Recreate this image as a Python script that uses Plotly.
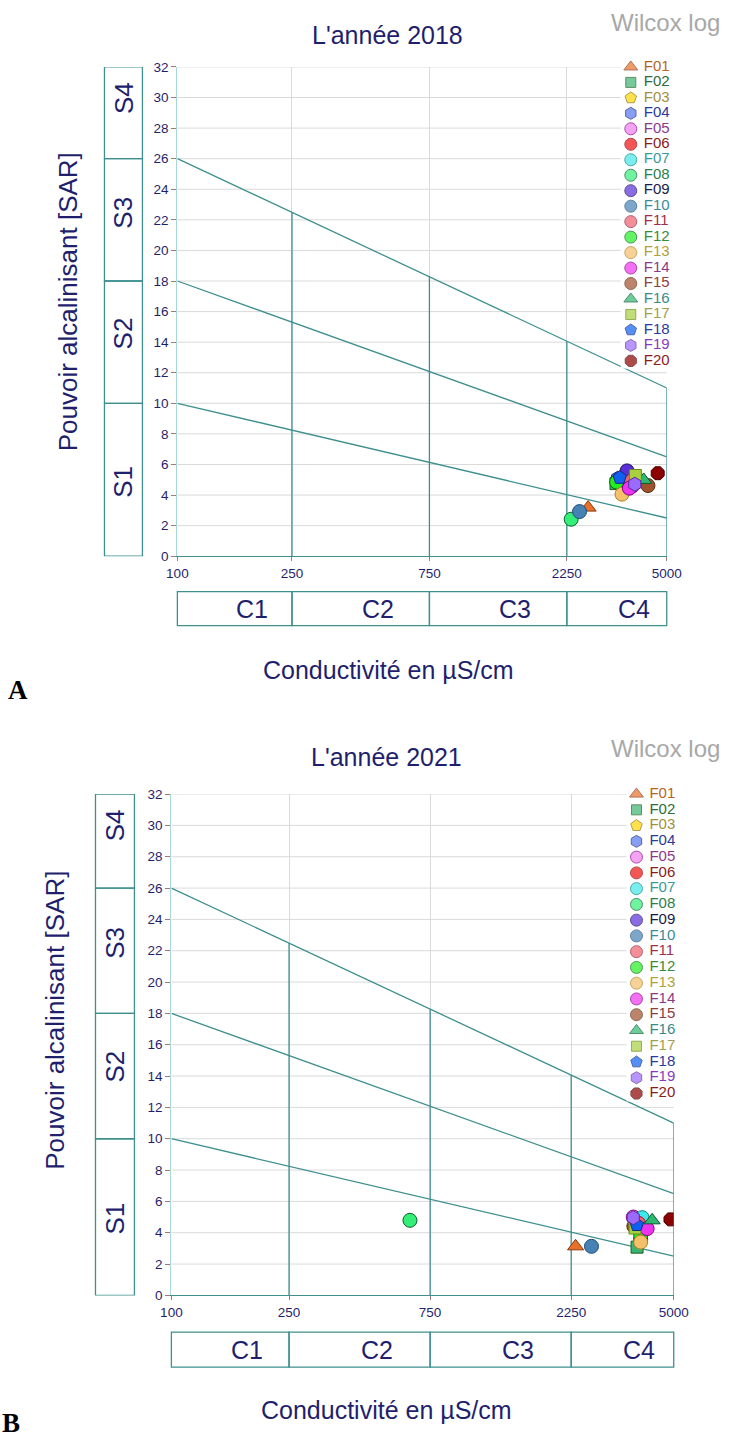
import math
import plotly.graph_objects as go

W, H = 737, 1442

# ---------------- data ----------------
series = ["F01", "F02", "F03", "F04", "F05", "F06", "F07", "F08", "F09", "F10",
          "F11", "F12", "F13", "F14", "F15", "F16", "F17", "F18", "F19", "F20"]
symbols = ["triangle-up", "square", "pentagon", "hexagon", "circle", "circle", "circle",
           "circle", "circle", "circle", "circle", "circle", "circle", "circle", "circle",
           "triangle-up", "square", "pentagon", "hexagon", "octagon"]
fill_colors = ["#e8702a", "#3cb371", "#ffd700", "#5577ee", "#f07cf0", "#f01010", "#40e8e8",
               "#33ee77", "#5a2ed8", "#4682b4", "#f06070", "#22ee22", "#f5c06a", "#ee33ee",
               "#a0522d", "#2eb872", "#a8d040", "#1060f0", "#9b6bff", "#8b0000"]
edge_colors = ["#8b3a0f", "#1b5e20", "#8b7500", "#1a237e", "#8b008b", "#8b0000", "#008080",
               "#0a6030", "#1a0a5a", "#1f4e79", "#8b2030", "#0a6a0a", "#b08020", "#800080",
               "#5a2a10", "#0a5a30", "#6a8a10", "#0a2a8a", "#5a2a9a", "#4a0000"]
text_colors = ["#b5651d", "#2e6b3a", "#a09040", "#2a3a9a", "#8b3a8b", "#8b1a1a", "#3a9a9a",
               "#2e7d4a", "#1a1a4a", "#3a8a9a", "#a0304a", "#3a8a3a", "#b0a040", "#8b3a8b",
               "#8b4040", "#3a8a8a", "#a0a050", "#2a3a9a", "#8a3ac0", "#8b1a1a"]

ec_2018 = [2667, 3333, 3500, 3380, 3800, 3700, 3600, 2329, 3640, 2490,
           3750, 3350, 3497, 3709, 4303, 4159, 3892, 3434, 3873, 4652]
sar_2018 = [3.18, 4.75, 4.4, 5.1, 4.6, 5.0, 5.1, 2.42, 5.58, 2.92,
            4.9, 4.85, 4.06, 4.45, 4.62, 4.99, 5.28, 5.14, 4.71, 5.43]

ec_2021 = [2328, 3758, 3800, 3700, 3650, 3850, 3911, 641, 3865, 2635,
           3800, 3865, 3865, 4065, 3666, 4227, 3700, 3750, 3648, 4875]
sar_2021 = [3.13, 3.08, 4.6, 4.7, 5.0, 4.5, 4.96, 4.79, 3.56, 3.13,
            4.6, 3.83, 3.4, 4.26, 4.41, 4.79, 4.3, 4.5, 4.96, 4.85]

ec_ticks = [100, 250, 750, 2250, 5000]
sar_ticks = list(range(0, 33, 2))
c_bounds = [100, 250, 750, 2250, 5000]
c_labels = ["C1", "C2", "C3", "C4"]
s_bounds = [0, 10, 18, 26, 32]
s_labels = ["S1", "S2", "S3", "S4"]
sar_line_left = [10, 18, 26]      # SAR at 100 µS/cm
sar_line_right = [2.5, 6.5, 11]   # SAR at 5000 µS/cm

# ---------------- styling ----------------
FONT = "Liberation Sans, Arial, sans-serif"
NAVY = "#1f1f6e"
TEAL = "#3f8f8f"
GRID = "#dadada"

# the captured page is slightly shrunk around its centre; map wanted
# screen positions to layout positions
SX, OX = 0.966, 11.4
SY, OY = 0.989, 7.4

def lx_(x):
    return (x - OX) / SX

def ly_(y):
    return (y - OY) / SY

def px(x):
    return min(max(lx_(x) / W, 0.0), 1.0)

def py(y):
    return min(max(1 - ly_(y) / H, 0.0), 1.0)

LMIN, LMAX = math.log10(100), math.log10(5000)

panels = [
    dict(letter="A", year="2018", ec=ec_2018, sar=sar_2018, xa="x", ya="y", lx="x3", ly="y3",
         x0=178, x1=668, ybot=556.3, ytop=67.3, sbox=(105, 143), cbox=(591.7, 625.7),
         leg_x=632, leg_top=67.3, leg_step=15.46,
         title_xy=(388, 35), wl_right=(725, 23), xt_xy=(389, 670), yt_xy=(68, 302),
         letter_xy=(18, 690), s_label_sar=[4.9, 14.6, 22.5, 30.0]),
    dict(letter="B", year="2021", ec=ec_2021, sar=sar_2021, xa="x2", ya="y2", lx="x4", ly="y4",
         x0=172, x1=675, ybot=1295, ytop=794, sbox=(96, 135), cbox=(1331.7, 1366.7),
         leg_x=637.7, leg_top=794, leg_step=15.75,
         title_xy=(387, 757), wl_right=(732, 748), xt_xy=(387, 1410), yt_xy=(56, 1020),
         letter_xy=(11, 1423), s_label_sar=[4.9, 14.6, 22.5, 30.0]),
]

fig = go.Figure()
shapes = []
annotations = []
layout_axes = {}

def top_line(x):
    f = (math.log10(x) - LMIN) / (LMAX - LMIN)
    return sar_line_left[2] + (sar_line_right[2] - sar_line_left[2]) * f

for i, p in enumerate(panels):
    xa, ya = p["xa"], p["ya"]
    xkey = "xaxis" if xa == "x" else "xaxis" + xa[1:]
    ykey = "yaxis" if ya == "y" else "yaxis" + ya[1:]
    sar_px = (p["ybot"] - p["ytop"]) / 32.0

    layout_axes[xkey] = dict(
        type="log", range=[LMIN, LMAX], domain=[px(p["x0"]), px(p["x1"])], anchor=ya,
        tickvals=ec_ticks, ticktext=[str(v) for v in ec_ticks],
        showgrid=True, gridcolor=GRID, gridwidth=1, zeroline=False,
        showline=True, linecolor=TEAL, linewidth=1.2,
        ticks="outside", ticklen=4, tickcolor="#9a7a7a",
        tickfont=dict(family=FONT, size=13.5, color=NAVY), fixedrange=True)
    layout_axes[ykey] = dict(
        range=[0, 32], domain=[py(p["ybot"]), py(p["ytop"])], anchor=xa,
        tickvals=sar_ticks, showgrid=False, zeroline=False,
        showline=True, linecolor="#a8d8d8", linewidth=1.2,
        ticks="outside", ticklen=5, tickcolor="#9a7a7a",
        tickfont=dict(family=FONT, size=13.5, color=NAVY), fixedrange=True)

    # horizontal grid lines (stop at the legend)
    leg_bottom = p["leg_top"] + p["leg_step"] * 19 + 8
    for v in sar_ticks[1:]:
        ypix = p["ybot"] - v * sar_px
        xend = p["leg_x"] - 5 if (p["leg_top"] - 8 <= ypix <= leg_bottom) else p["x1"]
        shapes.append(dict(type="line", xref="paper", yref=ya, x0=px(p["x0"]), x1=px(xend),
                           y0=v, y1=v, line=dict(color=GRID, width=1), layer="below"))

    # Wilcox boundary lines
    for k in range(3):
        fig.add_trace(go.Scatter(x=[c_bounds[0], c_bounds[-1]], y=[sar_line_left[k], sar_line_right[k]],
                                 mode="lines", line=dict(color=TEAL, width=1.3),
                                 xaxis=xa, yaxis=ya, showlegend=False, hoverinfo="skip"))
    for xv in c_bounds[1:-1]:
        fig.add_trace(go.Scatter(x=[xv, xv], y=[0, top_line(xv)], mode="lines",
                                 line=dict(color=TEAL, width=1.3),
                                 xaxis=xa, yaxis=ya, showlegend=False, hoverinfo="skip"))
    fig.add_trace(go.Scatter(x=[c_bounds[-1], c_bounds[-1]], y=[0, sar_line_right[2]], mode="lines",
                             line=dict(color=TEAL, width=1.3),
                             xaxis=xa, yaxis=ya, showlegend=False, hoverinfo="skip"))

    # data points
    for j, name in enumerate(series):
        sym = symbols[j]
        size = 12 if sym == "square" else 14
        fig.add_trace(go.Scatter(x=[p["ec"][j]], y=[p["sar"][j]], mode="markers", name=name,
                                 marker=dict(symbol=sym, size=size, color=fill_colors[j],
                                             line=dict(color=edge_colors[j], width=1)),
                                 xaxis=xa, yaxis=ya, showlegend=False))

    # legend (own small axis pair, x in screen-pixel units from the marker column)
    lxkey = "xaxis" + p["lx"][1:]
    lykey = "yaxis" + p["ly"][1:]
    half = p["leg_step"] / 2
    layout_axes[lxkey] = dict(domain=[px(p["leg_x"] - 10), px(p["leg_x"] + 40)], range=[-10, 40],
                              visible=False, anchor=p["ly"], fixedrange=True)
    layout_axes[lykey] = dict(domain=[py(p["leg_top"] + p["leg_step"] * 19 + half), py(p["leg_top"] - half)],
                              range=[19.5, -0.5], visible=False, anchor=p["lx"], fixedrange=True)
    leg_sizes = [10 if s == "square" else 12 for s in symbols]
    fig.add_trace(go.Scatter(x=[0] * len(series), y=list(range(len(series))), mode="markers",
                             marker=dict(symbol=symbols, size=leg_sizes, color=fill_colors,
                                         line=dict(color=edge_colors, width=1)),
                             cliponaxis=False, xaxis=p["lx"], yaxis=p["ly"],
                             showlegend=False, hoverinfo="skip"))
    fig.add_trace(go.Scatter(x=[13] * len(series), y=list(range(len(series))), mode="text",
                             text=series, textposition="middle right",
                             textfont=dict(family=FONT, size=15, color=text_colors),
                             cliponaxis=False, xaxis=p["lx"], yaxis=p["ly"],
                             showlegend=False, hoverinfo="skip"))

    # S boxes
    for k in range(4):
        shapes.append(dict(type="rect", xref="paper", yref=ya, x0=px(p["sbox"][0]), x1=px(p["sbox"][1]),
                           y0=s_bounds[k], y1=s_bounds[k + 1], line=dict(color=TEAL, width=1.3)))
        annotations.append(dict(xref="paper", yref=ya, x=px((p["sbox"][0] + p["sbox"][1]) / 2),
                                y=p["s_label_sar"][k], text=s_labels[k], textangle=-90, showarrow=False,
                                font=dict(family=FONT, size=26, color=NAVY), xanchor="center", yanchor="middle"))

    # C boxes
    def xfrac(v, p=p):
        f = (math.log10(v) - LMIN) / (LMAX - LMIN)
        return p["x0"] + f * (p["x1"] - p["x0"])
    for k in range(4):
        xa0, xa1 = xfrac(c_bounds[k]), xfrac(c_bounds[k + 1])
        shapes.append(dict(type="rect", xref="paper", yref="paper", x0=px(xa0), x1=px(xa1),
                           y0=py(p["cbox"][1]), y1=py(p["cbox"][0]), line=dict(color=TEAL, width=1.3)))
        gm = math.sqrt(c_bounds[k] * c_bounds[k + 1])
        annotations.append(dict(xref="paper", yref="paper", x=px(xfrac(gm) + 17),
                                y=py((p["cbox"][0] + p["cbox"][1]) / 2), text=c_labels[k], showarrow=False,
                                font=dict(family=FONT, size=25, color=NAVY), xanchor="center", yanchor="middle"))

    # texts
    annotations.append(dict(xref="paper", yref="paper", x=px(p["title_xy"][0]), y=py(p["title_xy"][1]),
                            text="L'année " + p["year"], showarrow=False,
                            font=dict(family=FONT, size=25, color=NAVY), xanchor="center", yanchor="middle"))
    annotations.append(dict(xref="paper", yref="paper", x=px(p["wl_right"][0]), y=py(p["wl_right"][1]),
                            text="Wilcox log", showarrow=False,
                            font=dict(family=FONT, size=24, color="#a8a8a8"), xanchor="right", yanchor="middle"))
    annotations.append(dict(xref="paper", yref="paper", x=px(p["xt_xy"][0]), y=py(p["xt_xy"][1]),
                            text="Conductivité en µS/cm", showarrow=False,
                            font=dict(family=FONT, size=25, color=NAVY), xanchor="center", yanchor="middle"))
    annotations.append(dict(xref="paper", yref="paper", x=px(p["yt_xy"][0]), y=py(p["yt_xy"][1]),
                            text="Pouvoir alcalinisant [SAR]", showarrow=False, textangle=-90,
                            font=dict(family=FONT, size=26, color=NAVY), xanchor="center", yanchor="middle"))
    annotations.append(dict(xref="paper", yref="paper", x=px(p["letter_xy"][0]), y=py(p["letter_xy"][1]),
                            text="<b>" + p["letter"] + "</b>", showarrow=False,
                            font=dict(family="Liberation Serif, Times New Roman, serif", size=27, color="black"),
                            xanchor="center", yanchor="middle"))

fig.update_layout(
    width=W, height=H, margin=dict(l=0, r=0, t=0, b=0),
    paper_bgcolor="white", plot_bgcolor="white", showlegend=False,
    shapes=shapes, annotations=annotations, **layout_axes)

fig.write_html("out.html", config={"displayModeBar": False},
               post_script="document.body.style.margin='0px';document.body.style.padding='0px';"
                           "document.body.style.overflow='hidden';")
